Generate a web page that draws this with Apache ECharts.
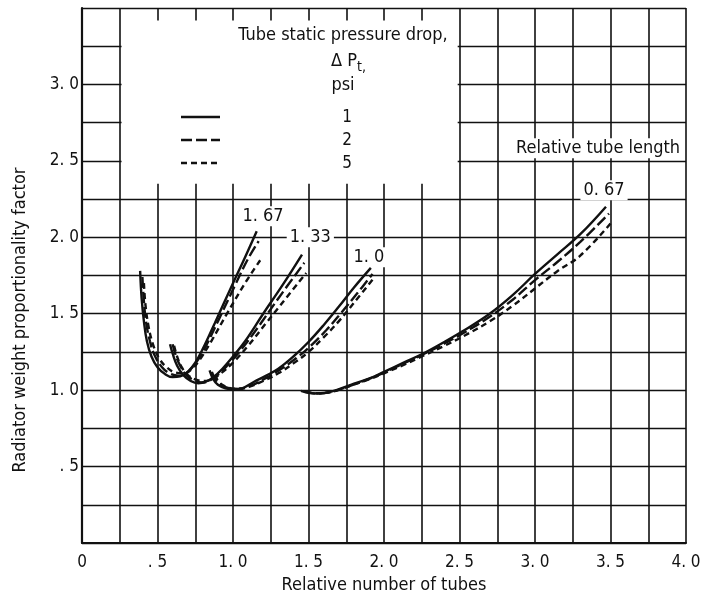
<!DOCTYPE html>
<html>
<head>
<meta charset="utf-8">
<title>Radiator weight proportionality factor</title>
<script src="https://cdn.jsdelivr.net/npm/echarts@6/dist/echarts.min.js"></script>
<style>
  html, body { margin: 0; padding: 0; background: #fff; }
  #chart { width: 701px; height: 598px; }
</style>
</head>
<body>
<div id="chart"></div>
<script>
// relative tube length curves, [relative number of tubes, weight factor]
// psi 1 = solid, psi 2 = long dash, psi 5 = short dash
const len167_psi1 = [[0.385,1.78],[0.395,1.6],[0.41,1.45],[0.43,1.32],[0.46,1.22],[0.5,1.15],[0.55,1.105],[0.6,1.085],[0.65,1.09],[0.7,1.12],[0.75,1.18],[0.8,1.27],[0.88,1.44],[1.0,1.7],[1.08,1.87],[1.157,2.04]];
const len167_psi2 = [[0.4,1.74],[0.41,1.58],[0.425,1.44],[0.45,1.32],[0.48,1.23],[0.53,1.15],[0.58,1.11],[0.64,1.095],[0.69,1.11],[0.74,1.16],[0.8,1.25],[0.9,1.45],[1.02,1.7],[1.1,1.86],[1.17,1.975]];
const len167_psi5 = [[0.41,1.7],[0.42,1.56],[0.44,1.42],[0.47,1.3],[0.51,1.21],[0.56,1.15],[0.62,1.115],[0.68,1.11],[0.73,1.14],[0.78,1.2],[0.85,1.31],[0.96,1.5],[1.08,1.7],[1.18,1.85]];

const len133_psi1 = [[0.583,1.3],[0.6,1.24],[0.63,1.16],[0.67,1.1],[0.72,1.06],[0.77,1.045],[0.82,1.055],[0.87,1.085],[0.93,1.14],[1.0,1.22],[1.08,1.32],[1.2,1.5],[1.33,1.69],[1.457,1.887]];
const len133_psi2 = [[0.6,1.3],[0.62,1.23],[0.65,1.16],[0.69,1.1],[0.74,1.065],[0.79,1.05],[0.84,1.06],[0.9,1.1],[0.97,1.17],[1.05,1.26],[1.15,1.39],[1.3,1.6],[1.472,1.833]];
const len133_psi5 = [[0.61,1.29],[0.63,1.22],[0.66,1.15],[0.7,1.1],[0.75,1.07],[0.8,1.06],[0.86,1.07],[0.92,1.11],[1.0,1.18],[1.1,1.29],[1.22,1.44],[1.35,1.6],[1.485,1.767]];

const len100_psi1 = [[0.845,1.13],[0.87,1.07],[0.9,1.035],[0.95,1.012],[1.0,1.005],[1.06,1.012],[1.14,1.055],[1.22,1.095],[1.3,1.14],[1.4,1.22],[1.5,1.315],[1.6,1.425],[1.7,1.545],[1.8,1.67],[1.913,1.8]];
const len100_psi2 = [[0.86,1.12],[0.89,1.06],[0.93,1.03],[0.98,1.012],[1.04,1.008],[1.12,1.03],[1.22,1.08],[1.32,1.14],[1.42,1.21],[1.52,1.295],[1.62,1.395],[1.72,1.51],[1.82,1.63],[1.924,1.76]];
const len100_psi5 = [[0.88,1.1],[0.91,1.05],[0.96,1.02],[1.02,1.01],[1.1,1.02],[1.2,1.06],[1.3,1.11],[1.4,1.175],[1.5,1.25],[1.6,1.345],[1.7,1.45],[1.8,1.57],[1.93,1.73]];

const len067_psi1 = [[1.45,0.995],[1.5,0.982],[1.56,0.978],[1.65,0.99],[1.78,1.035],[1.9,1.075],[2.0,1.12],[2.13,1.18],[2.26,1.24],[2.39,1.31],[2.52,1.385],[2.7,1.5],[2.85,1.62],[3.0,1.76],[3.15,1.89],[3.3,2.02],[3.47,2.2]];
const len067_psi2 = [[1.47,0.99],[1.55,0.978],[1.65,0.988],[1.78,1.03],[1.9,1.073],[2.0,1.115],[2.13,1.175],[2.26,1.235],[2.39,1.3],[2.52,1.37],[2.7,1.48],[2.85,1.59],[3.0,1.72],[3.15,1.84],[3.3,1.97],[3.49,2.155]];
const len067_psi5 = [[1.48,0.99],[1.56,0.98],[1.66,0.99],[1.78,1.03],[1.9,1.07],[2.0,1.11],[2.13,1.165],[2.26,1.225],[2.39,1.285],[2.52,1.35],[2.7,1.45],[2.85,1.55],[3.0,1.665],[3.15,1.78],[3.3,1.88],[3.5,2.09]];

const tubeLengths = ['1. 67', '1. 33', '1. 0', '0. 67'];
const pressureDrops = ['1', '2', '5'];
const xTickLabels = ['0', '. 5', '1. 0', '1. 5', '2. 0', '2. 5', '3. 0', '3. 5', '4. 0'];
const yTickLabels = ['', '. 5', '1. 0', '1. 5', '2. 0', '2. 5', '3. 0', ''];

const FONT = "'DejaVu Sans Condensed', 'DejaVu Sans', sans-serif";
const INK = '#111';
const dashes = ['solid', [11, 4], [6, 4]];

const curveSets = [
  [len167_psi1, len167_psi2, len167_psi5],
  [len133_psi1, len133_psi2, len133_psi5],
  [len100_psi1, len100_psi2, len100_psi5],
  [len067_psi1, len067_psi2, len067_psi5]
];

let series = [];
curveSets.forEach(function (set, i) {
  set.forEach(function (pts, j) {
    series.push({
      name: tubeLengths[i] + ' / ' + pressureDrops[j] + ' psi',
      type: 'line',
      data: pts,
      showSymbol: false,
      smooth: 0.4,
      z: 3,
      lineStyle: { color: INK, width: 2.4, type: dashes[j] }
    });
  });
});

// where the curve labels sit (data coords), plus the white legend panel
const labelAt = [[1.199, 2.138], [1.512, 2.0], [1.9, 1.87], [3.457, 2.308]];
series.push({
  type: 'scatter',
  z: 1,
  symbolSize: 0,
  silent: true,
  itemStyle: { color: INK, opacity: 1 },
  data: labelAt.map(function (p, i) { return { value: p, name: tubeLengths[i] }; })
    .concat([{ value: [3.418, 2.582], name: 'Relative tube length' }]),
  label: {
    show: true,
    position: 'inside',
    formatter: '{b}',
    color: INK,
    opacity: 1,
    textBorderWidth: 0,
    textBorderColor: 'transparent',
    fontFamily: FONT,
    fontSize: 18,
    backgroundColor: '#fff',
    padding: [1, 3]
  },
  markArea: {
    silent: true,
    itemStyle: { color: '#fff', opacity: 1 },
    data: [[{ coord: [0.262, 3.418] }, { coord: [2.488, 2.35] }]]
  }
});

let myChart = echarts.init(document.getElementById('chart'));
myChart.setOption({
  backgroundColor: '#fff',
  animation: false,
  grid: { left: 82, top: 8, right: 15, bottom: 55, containLabel: false, outerBoundsMode: 'none' },
  xAxis: {
    type: 'value',
    min: 0, max: 4, interval: 0.25,
    name: 'Relative number of tubes',
    nameLocation: 'middle',
    nameGap: 31,
    nameTextStyle: { color: INK, fontFamily: FONT, fontSize: 18 },
    axisLine: { show: true, lineStyle: { color: INK, width: 2.2 } },
    axisTick: { show: false },
    axisLabel: {
      margin: 11, color: INK, fontFamily: FONT, fontSize: 17,
      formatter: function (v) {
        let k = Math.round(v * 4);
        return k % 2 ? '' : xTickLabels[k / 2];
      }
    },
    splitLine: { show: true, lineStyle: { color: INK, width: 1.6 } }
  },
  yAxis: {
    type: 'value',
    min: 0, max: 3.5, interval: 0.25,
    axisLine: { show: true, lineStyle: { color: INK, width: 2.2 } },
    axisTick: { show: false },
    axisLabel: {
      margin: 3, color: INK, fontFamily: FONT, fontSize: 17,
      formatter: function (v) {
        let k = Math.round(v * 4);
        return k % 2 ? '' : yTickLabels[k / 2];
      }
    },
    splitLine: { show: true, lineStyle: { color: INK, width: 1.3 } }
  },
  graphic: [
    { type: 'text', x: 20, y: 320, rotation: Math.PI / 2, z: 10,
      style: { text: 'Radiator weight proportionality factor', fill: INK, font: '18px ' + FONT, align: 'center', verticalAlign: 'middle' } },
    { type: 'text', x: 343, y: 35, z: 10,
      style: { text: 'Tube static pressure drop,', fill: INK, font: '18px ' + FONT, align: 'center', verticalAlign: 'middle' } },
    { type: 'text', x: 357, y: 61, z: 10,
      style: { text: 'Δ P', fill: INK, font: '18px ' + FONT, align: 'right', verticalAlign: 'middle' } },
    { type: 'text', x: 357, y: 67, z: 10,
      style: { text: 't,', fill: INK, font: '14px ' + FONT, align: 'left', verticalAlign: 'middle' } },
    { type: 'text', x: 343, y: 85, z: 10,
      style: { text: 'psi', fill: INK, font: '18px ' + FONT, align: 'center', verticalAlign: 'middle' } }
  ].concat(pressureDrops.map(function (p, j) {
    return { type: 'text', x: 347, y: 118 + j * 23, z: 10,
      style: { text: p, fill: INK, font: '17px ' + FONT, align: 'center', verticalAlign: 'middle' } };
  })).concat(pressureDrops.map(function (p, j) {
    return { type: 'line', z: 10,
      shape: { x1: 181, y1: 117 + j * 23, x2: 220, y2: 117 + j * 23 },
      style: { stroke: INK, lineWidth: 2.4, lineDash: j === 0 ? null : dashes[j] } };
  })),
  series: series
});
</script>
</body>
</html>
